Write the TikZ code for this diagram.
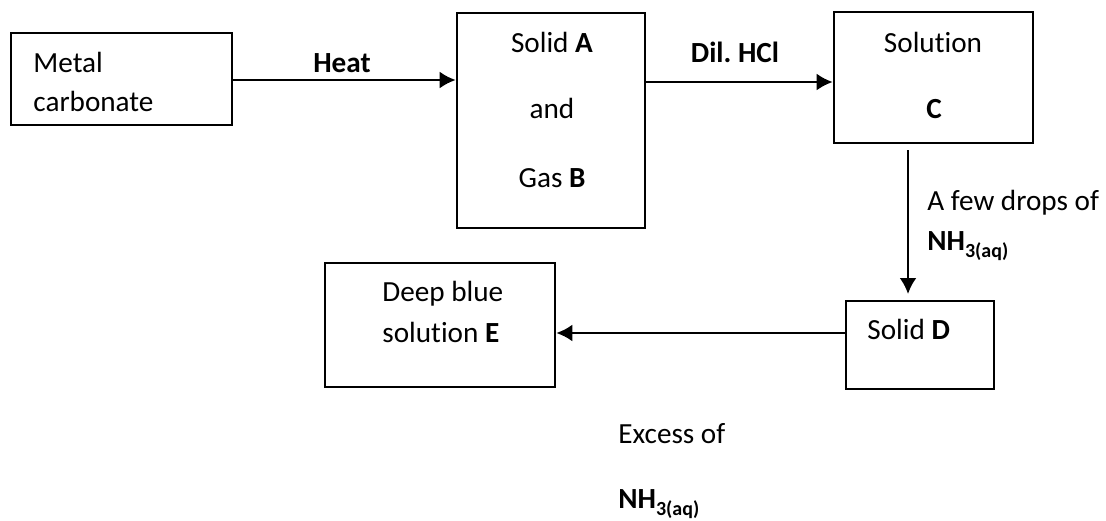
\documentclass[tikz,border=0pt]{standalone}
\usepackage{fontspec}
\setmainfont{Carlito}[Ligatures={NoCommon}]
\usetikzlibrary{arrows.meta,fit}
\frenchspacing
\newcommand{\nhsub}{\textbf{NH\raisebox{-0.25em}{\fontsize{10}{10}\selectfont 3(aq)}}}
\begin{document}
\begin{tikzpicture}[x=0.5pt,y=-0.5pt,
  box/.style={draw,line width=1.3pt,inner sep=0pt,rectangle},
  lbl/.style={inner sep=0pt,anchor=base west,font=\fontsize{14.6}{17}\selectfont},
  clbl/.style={inner sep=0pt,anchor=base,font=\fontsize{14.6}{17}\selectfont},
  arr/.style={line width=1.3pt,-{Latex[length=8pt,width=8.5pt]}}]
\useasboundingbox (0,0) rectangle (1106,520);
\fill[white] (0,0) rectangle (1106,520);
% boxes
\node[box,fit={(11,33)(232,125)}] (mc) {};
\node[box,fit={(457,13)(645,228)}] (sa) {};
\node[box,fit={(834,12)(1033,143)}] (sc) {};
\node[box,fit={(846,301)(994,389)}] (sd) {};
\node[box,fit={(325,263)(555,387)}] (se) {};
% texts
\node[lbl] (t1) at (33,72) {Metal};
\node[lbl] (t2) at (33,111) {carbonate};
\node[clbl] (t3) at (552,52) {Solid \textbf{A}};
\node[clbl] (t4) at (552,118) {and};
\node[clbl] (t5) at (552,187) {Gas \textbf{B}};
\node[clbl] (t6) at (933,52) {Solution};
\node[clbl] (t7) at (934,118) {\textbf{C}};
\node[lbl] (t8) at (867,339) {Solid \textbf{D}};
\node[lbl] (t9) at (382,301) {Deep blue};
\node[lbl] (t10) at (382,342) {solution \textbf{E}};
% connector labels
\node[clbl] (l1) at (342,72) {\textbf{Heat}};
\node[clbl] (l2) at (735,62) {\textbf{Dil. HCl}};
\node[lbl] (l3) at (927,210) {A few drops of};
\node[lbl] (l4) at (927,250) {\nhsub};
\node[lbl] (l5) at (618,443) {Excess of};
\node[lbl] (l6) at (618,508) {\nhsub};
% connectors
\coordinate (yh) at (0,80);
\coordinate (yd) at (0,82);
\coordinate (ye) at (0,333);
\coordinate (vtop) at (908,150);
\coordinate (vbot) at (908,294);
\draw[arr] (mc.east |- yh) -- (sa.west |- yh);
\draw[arr] (sa.east |- yd) -- (sc.west |- yd);
\draw[arr] (vtop) -- (vbot);
\draw[arr] (sd.west |- ye) -- (se.east |- ye);
\end{tikzpicture}
\end{document}
